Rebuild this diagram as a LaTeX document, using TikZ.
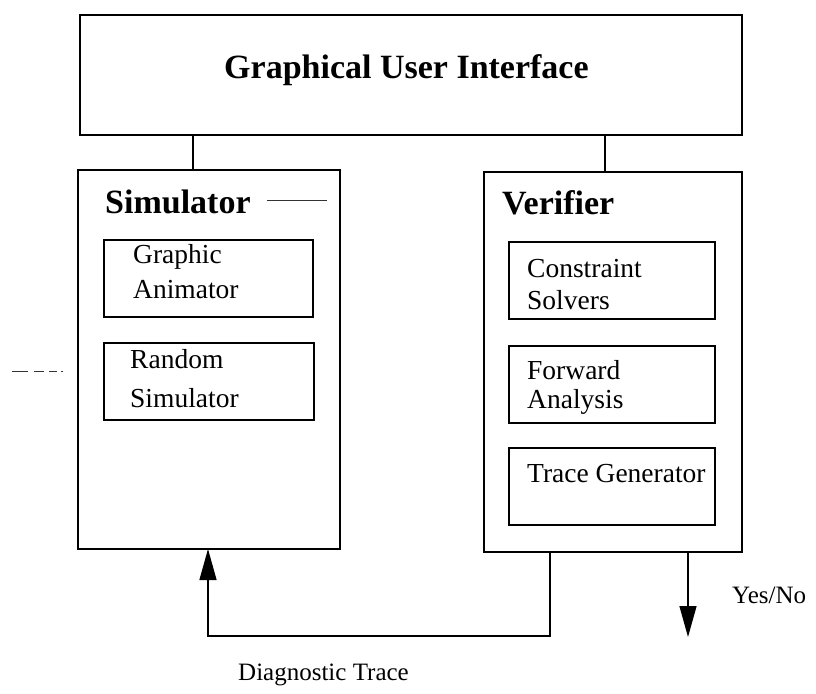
\documentclass[tikz,border=0pt]{standalone}
\usepackage{fontspec}
\setmainfont{Liberation Serif}
\usetikzlibrary{arrows.meta}

\tikzset{
  box/.style={draw, line width=1.3pt},
  lbl/.style={anchor=base west, inner sep=0pt, font=\fontsize{27.5}{33}\selectfont},
  title/.style={anchor=base west, inner sep=0pt, font=\fontsize{34}{40}\selectfont\bfseries},
  note/.style={anchor=base west, inner sep=0pt, font=\fontsize{25}{30}\selectfont},
  wire/.style={line width=1.3pt},
  flow/.style={line width=1.3pt, -{Triangle[length=31pt, width=17pt]}},
  smudge/.style={line width=0.9pt, black!80}
}

\begin{document}
\begin{tikzpicture}[x=1pt, y=-1pt]
\useasboundingbox (0,0) rectangle (816,693);

% top level: the user interface
\draw[box] (80,15) rectangle (742,135);
\node[title] (gui) at (224,78) {Graphical User Interface};

% simulator block (multi-line labels are placed by their last baseline)
\draw[box] (78,170) rectangle (340,549);
\node[title] (sim) at (105,213) {Simulator};
\draw[box] (104,240) rectangle (313,317);
\node[lbl, align=left] (ga) at (133,298) {Graphic\\[2pt]Animator};
\draw[box] (104,343) rectangle (314,420);
\node[lbl, align=left] (rs) at (130,407) {Random\\[6pt]Simulator};

% verifier block
\draw[box] (484,172) rectangle (742,552);
\node[title] (ver) at (502,214) {Verifier};
\draw[box] (509,242) rectangle (715,319);
\node[lbl, align=left] (cs) at (527,309) {Constraint\\[-1pt]Solvers};
\draw[box] (509,346) rectangle (715,423);
\node[lbl, align=left] (fa) at (527,408) {Forward\\[-4pt]Analysis};
\draw[box] (509,448) rectangle (715,525);
\node[lbl] (tg) at (527,482) {Trace Generator};

% links to the interface
\coordinate (guiL) at (193,135);
\coordinate (simT) at (193,170);
\coordinate (guiR) at (605,135);
\coordinate (verT) at (605,172);
\draw[wire] (guiL) -- (simT);
\draw[wire] (guiR) -- (verT);

% diagnostic trace fed back to the simulator
\coordinate (verB) at (550,552);
\coordinate (corner1) at (550,636);
\coordinate (corner2) at (208,636);
\coordinate (simB) at (208,549);
\draw[flow] (verB) -- (corner1) -- (corner2) -- (simB);
\node[note] (dt) at (238,680) {Diagnostic Trace};

% verdict output
\coordinate (verB2) at (688,552);
\coordinate (out) at (688,637);
\draw[flow] (verB2) -- (out);
\node[note] (yn) at (732,603) {Yes/No};

% stray marks
\draw[smudge] (267,200) -- (327,200);
\draw[smudge, dash pattern=on 16pt off 6pt on 10pt off 5pt on 8pt off 4pt] (12,371) -- (63,371);
\end{tikzpicture}
\end{document}
